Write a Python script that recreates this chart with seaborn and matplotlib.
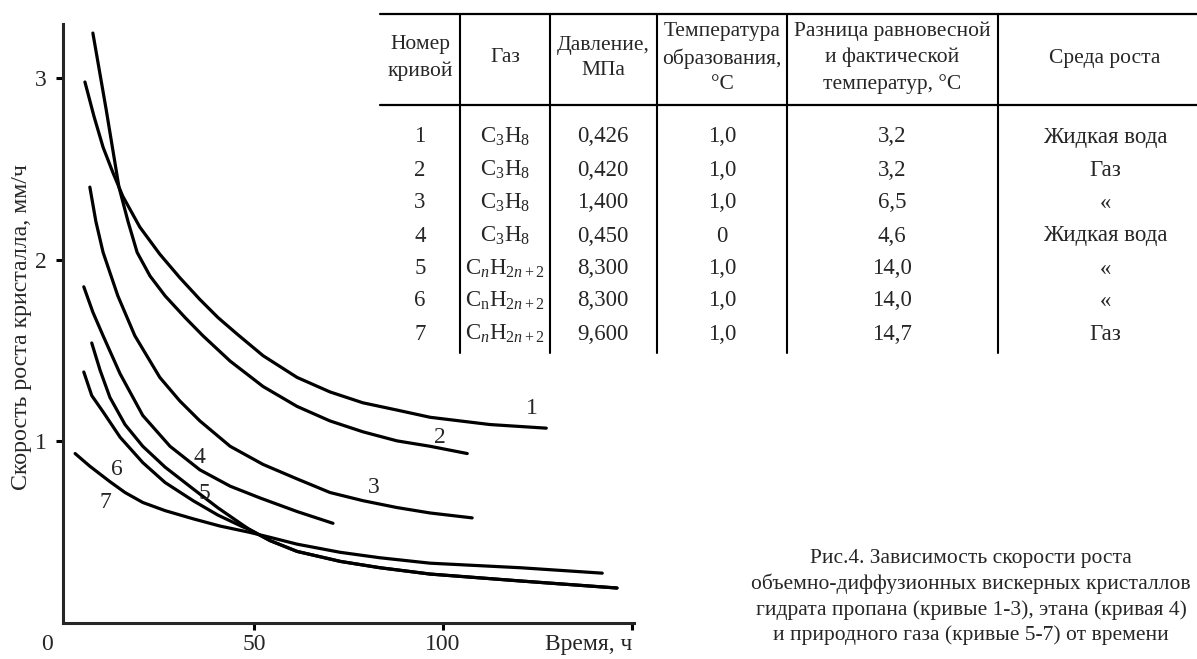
import matplotlib
matplotlib.use('Agg')

import pandas as pd
import matplotlib.pyplot as plt
import seaborn as sns

# curves: time (h) and growth rate (mm/h)
t1 = [5.3, 7.7, 10.1, 12.7, 15.3, 19.8, 25.1, 30.4, 35.7, 40.5, 45.5, 52.4, 61.4, 70.1, 78.8, 87.8, 96.6, 112.4, 127.3]
v1 = [2.98, 2.79, 2.62, 2.48, 2.35, 2.18, 2.03, 1.90, 1.78, 1.68, 1.59, 1.47, 1.35, 1.27, 1.21, 1.17, 1.13, 1.09, 1.07]
t2 = [7.4, 10.9, 14.3, 16.7, 19.1, 22.5, 26.5, 31.8, 36.5, 43.7, 52.4, 61.4, 70.1, 78.8, 87.8, 96.6, 106.4]
v2 = [3.25, 2.83, 2.40, 2.21, 2.04, 1.91, 1.80, 1.68, 1.58, 1.44, 1.30, 1.19, 1.11, 1.05, 1.00, 0.97, 0.93]
t3 = [6.6, 8.2, 10.1, 14.0, 18.5, 25.1, 30.4, 35.7, 43.7, 52.4, 61.4, 70.1, 78.8, 87.8, 96.6, 107.7]
v3 = [2.40, 2.21, 2.04, 1.80, 1.58, 1.35, 1.22, 1.11, 0.97, 0.87, 0.79, 0.715, 0.67, 0.632, 0.602, 0.575]
t4 = [5.0, 7.4, 10.1, 14.6, 20.6, 27.8, 35.7, 43.7, 51.6, 61.4, 70.9]
v4 = [1.85, 1.71, 1.58, 1.37, 1.14, 0.97, 0.84, 0.75, 0.685, 0.61, 0.545]
t5 = [7.1, 9.3, 11.9, 15.9, 20.6, 26.5, 33.9, 40.5, 47.1, 48.9, 54.2, 61.4, 72.8, 83.3, 96.6, 120.4, 146.0]
v5 = [1.54, 1.39, 1.24, 1.09, 0.97, 0.855, 0.735, 0.63, 0.535, 0.51, 0.45, 0.39, 0.335, 0.30, 0.265, 0.227, 0.188]
t6 = [5.0, 7.1, 10.1, 14.6, 20.6, 26.5, 33.9, 40.5, 47.1, 48.9, 54.2, 61.4, 72.8, 83.3, 96.6, 120.4, 146.0]
v6 = [1.38, 1.25, 1.16, 1.02, 0.88, 0.77, 0.67, 0.59, 0.525, 0.51, 0.45, 0.39, 0.335, 0.30, 0.265, 0.227, 0.188]
t7 = [2.7, 6.6, 11.9, 15.9, 20.6, 26.5, 33.9, 41.0, 48.9, 54.2, 61.4, 72.8, 83.3, 96.6, 120.4, 142.1]
v7 = [0.93, 0.86, 0.775, 0.715, 0.66, 0.615, 0.57, 0.53, 0.495, 0.468, 0.43, 0.385, 0.355, 0.325, 0.30, 0.27]

curve_t = [t1, t2, t3, t4, t5, t6, t7]
curve_v = [v1, v2, v3, v4, v5, v6, v7]

# where the curve numbers sit
label_x = [123.5, 99.2, 81.7, 35.7, 37.0, 13.8, 10.6]
label_y = [1.18, 1.02, 0.74, 0.91, 0.71, 0.84, 0.66]

# table
headers = ["Номер\nкривой", "Газ", "Давление,\nМПа", "Температура\nобразования,\n°C",
           "Разница равновесной\nи фактической\nтемператур, °C", "Среда роста"]
curve_no = ["1", "2", "3", "4", "5", "6", "7"]
gas = [r"C$_3$H$_8$"] * 4 + [r"C$_n$H$_{2n+2}$", r"C$_\mathrm{n}$H$_{2n+2}$", r"C$_n$H$_{2n+2}$"]
pressure = ["0,426", "0,420", "1,400", "0,450", "8,300", "8,300", "9,600"]
t_form = ["1,0", "1,0", "1,0", "0", "1,0", "1,0", "1,0"]
d_temp = ["3,2", "3,2", "6,5", "4,6", "14,0", "14,0", "14,7"]
medium = ["Жидкая вода", "Газ", "«", "Жидкая вода", "«", "«", "Газ"]

caption = ("Рис.4. Зависимость скорости роста\n"
           "объемно-диффузионных вискерных кристаллов\n"
           "гидрата пропана (кривые 1-3), этана (кривая 4)\n"
           "и природного газа (кривые 5-7) от времени")

rows = []
for i in range(len(curve_t)):
    for t, v in zip(curve_t[i], curve_v[i]):
        rows.append({'curve': i + 1, 't': t, 'v': v})
df = pd.DataFrame(rows)

sns.set_style("ticks")
plt.rcParams['font.family'] = ['Liberation Serif', 'DejaVu Serif']
plt.rcParams['mathtext.fontset'] = 'custom'
plt.rcParams['mathtext.rm'] = 'Liberation Serif'
plt.rcParams['mathtext.it'] = 'Liberation Serif:italic'

fig = plt.figure(figsize=(11.97, 6.59), dpi=100)

# overlay for table and caption, pixel coordinates
ov = fig.add_axes([0, 0, 1, 1])
ov.set_xlim(0, 1197)
ov.set_ylim(659, 0)
ov.axis('off')

ax = fig.add_axes([63 / 1197, 1 - 623 / 659, 571 / 1197, 599 / 659])
ax.patch.set_alpha(0)

sns.lineplot(data=df, x='t', y='v', units='curve', estimator=None, sort=False,
             color='black', lw=2.3, ax=ax, legend=False)
for l in ax.lines:
    l.set_solid_joinstyle('round')

for i in range(len(curve_no)):
    ax.text(label_x[i], label_y[i], curve_no[i], fontsize=17, ha='center', va='center')

ax.set_xlim(-0.5, 150.5)
ax.set_ylim(-0.005, 3.30)
sns.despine(ax=ax)
for s in ['left', 'bottom']:
    ax.spines[s].set_linewidth(2.2)
    ax.spines[s].set_capstyle('projecting')
ax.set_xticks([50, 100, 150], ['50', '100', 'Время, ч'])
ax.set_yticks([1, 2, 3])
ax.tick_params(axis='both', direction='out', length=5, width=2.2, labelsize=17, color='black')
ax.tick_params(axis='x', pad=3)
ax.tick_params(axis='y', pad=7)
ax.get_xticklabels()[-1].set_ha('right')
ax.set_xlabel('')
ax.set_ylabel('Скорость роста кристалла, мм/ч', fontsize=17.2)
ax.yaxis.set_label_coords(-0.054, 0.494)
ov.text(47, 645, '0', fontsize=17, ha='center', va='center')

# table lines
col_lines = [460, 550, 657, 787, 998]
col_centers = [420, 505, 603, 722, 892, 1105]
ov.plot([380, 1197], [14, 14], color='black', lw=1.6)
ov.plot([380, 1197], [105, 105], color='black', lw=1.6)
for xl in col_lines:
    ov.plot([xl, xl], [14, 353], color='black', lw=1.5)
for j, h in enumerate(headers):
    ov.text(col_centers[j], 58, h, fontsize=15.5, ha='center', va='center',
            linespacing=1.45, multialignment='center')
row_y = [137, 170, 203, 236, 269, 301, 334]
cols = [curve_no, gas, pressure, t_form, d_temp, medium]
for j, col in enumerate(cols):
    for k, val in enumerate(col):
        ov.text(col_centers[j], row_y[k], val, fontsize=16.5, ha='center', va='center')

ov.text(971, 597, caption, fontsize=15.5, ha='center', va='center', linespacing=1.38)

fig.savefig('out.png', dpi=100)
